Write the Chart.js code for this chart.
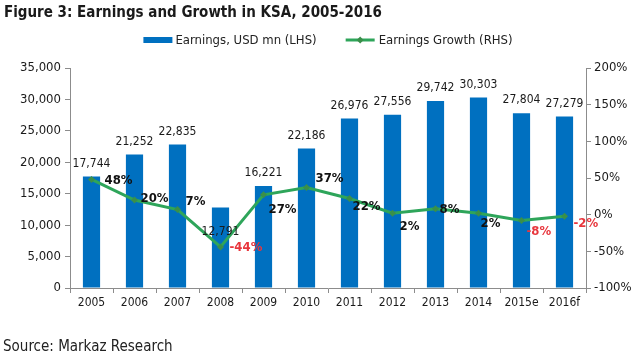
<!DOCTYPE html>
<html>
<head>
<meta charset="utf-8">
<script src="https://cdn.jsdelivr.net/npm/chart.js@4.4.1/dist/chart.umd.min.js"></script>
<style>
html,body{margin:0;padding:0;background:#fff;}
#wrap{position:relative;width:636px;height:355px;}
</style>
</head>
<body>
<div id="wrap"><canvas id="c" width="636" height="355"></canvas></div>
<script>
const categories = ['2005','2006','2007','2008','2009','2010','2011','2012','2013','2014','2015e','2016f'];
const earnings = [17744,21252,22835,12791,16221,22186,26976,27556,29742,30303,27804,27279];
const growth = [48,20,7,-44,27,37,22,2,8,2,-8,-2];
const titleText = 'Figure 3: Earnings and Growth in KSA, 2005-2016';
const sourceText = 'Source: Markaz Research';
const barLabel = 'Earnings, USD mn (LHS)';
const lineLabel = 'Earnings Growth (RHS)';

// label placement tweaks (styles, in px)
const growthLabelOffsets = [[13,1],[6,-1],[8,-8],[9,1],[5,15],[9,-9],[3,8],[7,13],[4,1],[2,10],[5,11],[9,7]];
const barLabelOffsets = [0,0,0,37,0,0,0,0,0,0,0,0];

const FONT = "'DejaVu Sans Condensed','DejaVu Sans',sans-serif";
const BOLDFONT = "'DejaVu Sans Condensed','DejaVu Sans',sans-serif";
const BAR_COLOR = '#0070C0';
const LINE_COLOR = '#2EA55A';
const MARK_COLOR = '#3A8F4A';
const AXIS_COLOR = '#8C8C8C';

const fmt = v => v.toLocaleString('en-US');

const decor = {
  id: 'decor',
  afterDraw(chart) {
    const ctx = chart.ctx;
    const ca = chart.chartArea;
    ctx.save();
    // title
    ctx.fillStyle = '#1a1a1a';
    ctx.font = "bold 15px " + BOLDFONT;
    ctx.textAlign = 'left';
    ctx.textBaseline = 'alphabetic';
    ctx.fillText(titleText, 4, 17);
    // source
    ctx.font = "15px " + FONT;
    ctx.fillStyle = '#222';
    ctx.fillText(sourceText, 3, 351);
    // legend
    ctx.font = "13px " + FONT;
    const w1 = ctx.measureText(barLabel).width;
    const w2 = ctx.measureText(lineLabel).width;
    const sw = 29;
    const total = sw + 3 + w1 + 29 + sw + 4 + w2;
    let x = (ca.left + ca.right) / 2 - total / 2;
    const y = 40;
    ctx.fillStyle = BAR_COLOR;
    ctx.fillRect(x, y - 3, sw, 6);
    x += sw + 3;
    ctx.fillStyle = '#222';
    ctx.textBaseline = 'middle';
    ctx.fillText(barLabel, x, y + 1);
    x += w1 + 29;
    ctx.strokeStyle = LINE_COLOR;
    ctx.lineWidth = 3;
    ctx.beginPath(); ctx.moveTo(x, y); ctx.lineTo(x + sw, y); ctx.stroke();
    ctx.fillStyle = MARK_COLOR;
    ctx.beginPath();
    const cx = x + sw / 2;
    ctx.moveTo(cx, y - 3.5); ctx.lineTo(cx + 3.5, y); ctx.lineTo(cx, y + 3.5); ctx.lineTo(cx - 3.5, y); ctx.closePath(); ctx.fill();
    x += sw + 4;
    ctx.fillStyle = '#222';
    ctx.fillText(lineLabel, x, y + 1);
    ctx.restore();
  },
  afterDatasetsDraw(chart) {
    const ctx = chart.ctx;
    ctx.save();
    // bar labels
    const barMeta = chart.getDatasetMeta(0);
    ctx.font = "12px " + FONT;
    ctx.fillStyle = '#1a1a1a';
    ctx.textAlign = 'center';
    ctx.textBaseline = 'middle';
    barMeta.data.forEach((el, i) => {
      ctx.fillText(fmt(earnings[i]), el.x, el.y - 13 + barLabelOffsets[i]);
    });
    // growth labels
    const lineMeta = chart.getDatasetMeta(1);
    ctx.font = "bold 13px " + BOLDFONT;
    ctx.textAlign = 'left';
    lineMeta.data.forEach((el, i) => {
      const v = growth[i];
      ctx.fillStyle = v < 0 ? '#E8363D' : '#111';
      const o = growthLabelOffsets[i];
      ctx.fillText(v + '%', el.x + o[0], el.y + o[1]);
    });
    ctx.restore();
  }
};

new Chart(document.getElementById('c'), {
  data: {
    labels: categories,
    datasets: [
      {
        type: 'bar',
        label: barLabel,
        data: earnings,
        yAxisID: 'yL',
        backgroundColor: BAR_COLOR,
        categoryPercentage: 1,
        barPercentage: 0.4,
        order: 1
      },
      {
        type: 'line',
        label: lineLabel,
        data: growth,
        yAxisID: 'yR',
        borderColor: LINE_COLOR,
        borderWidth: 3,
        pointStyle: 'rectRot',
        pointRadius: 3.5,
        pointBackgroundColor: MARK_COLOR,
        pointBorderColor: MARK_COLOR,
        pointBorderWidth: 0,
        tension: 0,
        order: 0
      }
    ]
  },
  options: {
    responsive: false,
    animation: false,
    events: [],
    layout: { padding: { top: 68, left: 0, right: 0, bottom: 0 } },
    plugins: { legend: { display: false }, title: { display: false }, tooltip: { enabled: false } },
    scales: {
      x: {
        offset: true,
        grid: { offset: true, drawOnChartArea: false, drawTicks: true, tickLength: 5, color: AXIS_COLOR },
        border: { color: AXIS_COLOR },
        ticks: { color: '#1a1a1a', font: { family: FONT, size: 12 }, padding: 3, maxRotation: 0 },
        afterFit(s) { s.height = 67; }
      },
      yL: {
        position: 'left',
        min: 0, max: 35000,
        grid: { drawOnChartArea: false, tickLength: 5, color: AXIS_COLOR },
        border: { color: AXIS_COLOR },
        ticks: { stepSize: 5000, color: '#1a1a1a', font: { family: FONT, size: 13 }, padding: 4, callback: v => fmt(v) },
        afterFit(s) { s.width = 70; }
      },
      yR: {
        position: 'right',
        min: -100, max: 200,
        grid: { drawOnChartArea: false, tickLength: 5, color: AXIS_COLOR },
        border: { color: AXIS_COLOR },
        ticks: { stepSize: 50, color: '#1a1a1a', font: { family: FONT, size: 13 }, padding: 3, callback: v => v + '%' },
        afterFit(s) { s.width = 50; }
      }
    }
  },
  plugins: [decor]
});
</script>
</body>
</html>
